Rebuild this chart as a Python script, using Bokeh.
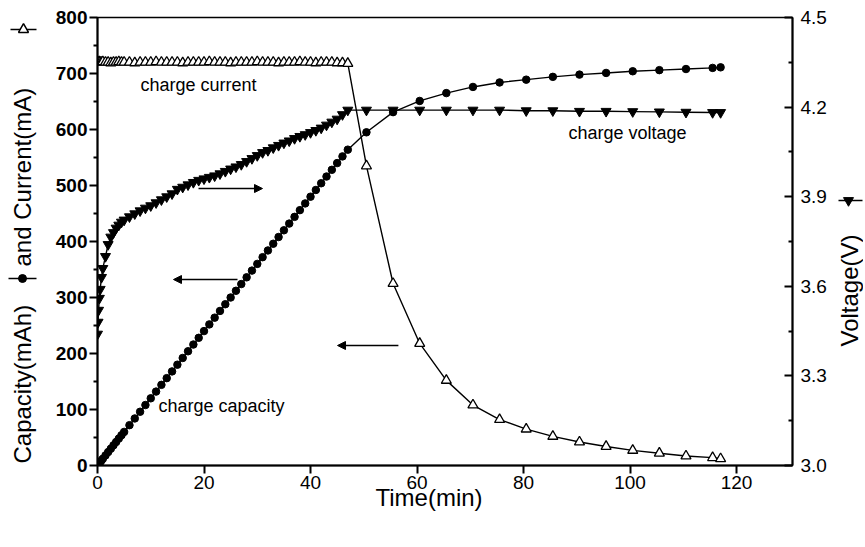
from bokeh.plotting import figure
from bokeh.layouts import row
from bokeh.models import (Range1d, LinearAxis, FixedTicker, NumeralTickFormatter,
                          Label, Arrow, NormalHead, Title)
from bokeh.embed import file_html
from bokeh.resources import INLINE

# ---------------- data ----------------
# constant-current stage (min)
t_cc = [0, 0.1, 0.2, 0.35, 0.5, 0.75, 1, 1.5, 2, 2.5,
        3, 3.5, 4, 4.5, 5, 6, 7, 8, 9, 10,
        11, 12, 13, 14, 15, 16, 17, 18, 19, 20,
        21, 22, 23, 24, 25, 26, 27, 28, 29, 30,
        31, 32, 33, 34, 35, 36, 37, 38, 39, 40,
        41, 42, 43, 44, 45, 46, 47]
current_cc = [721, 720, 720, 721, 720, 720, 721, 720, 720, 719,
              720, 720, 721, 720, 720, 720, 719, 720, 720, 720,
              721, 720, 720, 720, 720, 719, 720, 720, 720, 720,
              721, 720, 720, 720, 719, 720, 720, 720, 720, 721,
              720, 720, 720, 719, 720, 720, 720, 721, 720, 720,
              719, 720, 720, 720, 719, 719, 718]
voltage_cc = [3.44, 3.48, 3.52, 3.56, 3.59, 3.63, 3.66, 3.70, 3.74, 3.765,
              3.78, 3.795, 3.805, 3.815, 3.822, 3.833, 3.843, 3.853, 3.862, 3.87,
              3.88, 3.89, 3.90, 3.91, 3.925, 3.932, 3.94, 3.948, 3.955, 3.96,
              3.965, 3.97, 3.977, 3.985, 3.993, 4.00, 4.008, 4.018, 4.028, 4.038,
              4.048, 4.055, 4.064, 4.072, 4.08, 4.087, 4.095, 4.102, 4.108, 4.115,
              4.122, 4.13, 4.14, 4.15, 4.16, 4.175, 4.19]
capacity_cc = [0, 1.2, 2.4, 4.2, 6, 9, 12, 18, 24, 30,
               36, 42, 48, 54, 60, 72, 84, 96, 108, 120,
               132, 144, 156, 168, 180, 192, 204, 216, 228, 240,
               252, 264, 276, 288, 300, 312, 324, 336, 348, 360,
               372, 384, 396, 408, 420, 432, 444, 456, 468, 480,
               492, 504, 516, 528, 540, 552, 564]

# constant-voltage stage (min)
t_cv = [50.5, 55.5, 60.5, 65.5, 70.5, 75.5, 80.5, 85.5, 90.5, 95.5,
        100.5, 105.5, 110.5, 115.5, 117]
current_cv = [535, 325, 218, 152, 108, 82, 65, 52, 42, 34,
              27, 22, 17, 14, 12]
voltage_cv = [4.19, 4.19, 4.19, 4.19, 4.19, 4.19, 4.188, 4.188, 4.186, 4.186,
              4.185, 4.184, 4.183, 4.182, 4.182]
capacity_cv = [595, 631, 651, 665, 676, 684, 689, 694, 698, 701,
               704, 706, 708, 710, 711]

x_ticks = [0, 20, 40, 60, 80, 100, 120]
left_ticks = [0, 100, 200, 300, 400, 500, 600, 700, 800]
left_minor = [50, 150, 250, 350, 450, 550, 650, 750]
right_ticks = [3.0, 3.3, 3.6, 3.9, 4.2, 4.5]
right_minor = [3.15, 3.45, 3.75, 4.05, 4.35]

time = t_cc + t_cv
current = current_cc + current_cv
voltage = voltage_cc + voltage_cv
capacity = capacity_cc + capacity_cv

FONT = "Liberation Sans"
H = 531
LEFT_W, MAIN_W, RIGHT_W = 45, 788, 30
FRAME_TOP, FRAME_BOTTOM = 17, 465   # page pixel rows of the plot frame

# ---------------- main figure ----------------
p = figure(width=MAIN_W, height=H, output_backend="svg", toolbar_location=None,
           x_range=Range1d(0, 130.5), y_range=Range1d(0, 800),
           min_border_left=52, min_border_right=41, min_border_top=FRAME_TOP,
           min_border_bottom=H - FRAME_BOTTOM)
p.extra_y_ranges = {"volt": Range1d(3.0, 4.5)}
p.xgrid.visible = False
p.ygrid.visible = False
p.outline_line_color = "black"
p.outline_line_width = 1.5
p.background_fill_color = "white"
p.border_fill_color = "white"

xa = p.xaxis[0]
xa.ticker = FixedTicker(ticks=x_ticks)
xa.axis_line_width = 2
xa.major_tick_line_width = 2
xa.major_tick_out = 8
xa.major_tick_in = 0
xa.minor_tick_line_color = None
xa.major_label_text_font = FONT
xa.major_label_text_font_size = "19px"
xa.major_label_text_color = "black"
xa.major_label_standoff = 2

ya = p.yaxis[0]
ya.ticker = FixedTicker(ticks=left_ticks, minor_ticks=left_minor)
ya.axis_line_width = 2
ya.major_tick_line_width = 2
ya.minor_tick_line_width = 2
ya.major_tick_out = 8
ya.major_tick_in = 0
ya.minor_tick_out = 4
ya.minor_tick_in = 0
ya.major_label_text_font = FONT
ya.major_label_text_font_size = "19px"
ya.major_label_text_font_style = "bold"
ya.major_label_text_color = "black"
ya.major_label_standoff = 2

ra = LinearAxis(y_range_name="volt",
                ticker=FixedTicker(ticks=right_ticks, minor_ticks=right_minor),
                formatter=NumeralTickFormatter(format="0.0"))
ra.axis_line_width = 2
ra.major_tick_line_width = 2
ra.minor_tick_line_width = 2
ra.major_tick_in = 8
ra.major_tick_out = 0
ra.minor_tick_in = 4
ra.minor_tick_out = 0
ra.major_label_text_font = FONT
ra.major_label_text_font_size = "19px"
ra.major_label_text_color = "black"
ra.major_label_standoff = 8
p.add_layout(ra, "right")

p.add_layout(Title(text="Time(min)", align="left", offset=278, standoff=-19,
                   text_font=FONT, text_font_size="24px",
                   text_font_style="normal", text_color="black"), "below")

# ---------------- series ----------------
p.line(time, current, line_color="black", line_width=1.4)
p.scatter(time, current, marker="triangle", size=10, fill_color="white",
          line_color="black", line_width=1.3)

p.line(time, capacity, line_color="black", line_width=1.4)
p.scatter(time, capacity, marker="circle", size=7.5, fill_color="black",
          line_color="black")

p.line(time, voltage, line_color="black", line_width=1.4, y_range_name="volt")
p.scatter(time, voltage, marker="inverted_triangle", size=10, fill_color="black",
          line_color="black", y_range_name="volt")

# ---------------- annotations in plot ----------------
def txt(fig, x, y, s, size="18px", angle=0, align="left"):
    fig.add_layout(Label(x=x, y=y, text=s, text_font=FONT, text_font_size=size,
                         text_color="black", angle=angle, angle_units="deg",
                         text_align=align, text_baseline="middle"))

txt(p, 8.07, 678.6, "charge current")
txt(p, 88.44, 592.9, "charge voltage")
txt(p, 11.45, 107.1, "charge capacity")

def arrow(x0, x1, y):
    p.add_layout(Arrow(end=NormalHead(size=8, fill_color="black", line_color="black",
                                      line_width=1),
                       x_start=x0, y_start=y, x_end=x1, y_end=y,
                       line_color="black", line_width=1.5))

arrow(18.97, 30.98, 494.6)
arrow(26.29, 14.27, 332.1)
arrow(56.5, 45.07, 214.3)

# ---------------- side strips for the axis titles ----------------
# (their frames line up with the main frame, so their y range is in page rows)
def strip(w):
    s = figure(width=w, height=H, output_backend="svg", toolbar_location=None,
               x_range=Range1d(0, w), y_range=Range1d(FRAME_BOTTOM, FRAME_TOP),
               x_axis_location=None, y_axis_location=None,
               min_border_left=0, min_border_right=0,
               min_border_top=FRAME_TOP, min_border_bottom=H - FRAME_BOTTOM)
    s.xgrid.visible = False
    s.ygrid.visible = False
    s.outline_line_color = None
    s.background_fill_color = "white"
    s.border_fill_color = "white"
    return s

ls = strip(LEFT_W)
txt(ls, 22, 463, "Capacity(mAh)", size="24px", angle=90)
txt(ls, 22, 266, "and Current(mA)", size="24px", angle=90)
ls.line([8, 36], [278, 278], line_color="black", line_width=1.5)
ls.scatter([22], [278], marker="circle", size=8, fill_color="black", line_color="black")
ls.line([10, 36], [29, 29], line_color="black", line_width=1.5)
ls.scatter([23], [29], marker="triangle", size=10, fill_color="white",
           line_color="black", line_width=1.5)

rs = strip(RIGHT_W)
txt(rs, 16, 290, "Voltage(V)", size="24px", angle=90, align="center")
rs.line([5, 29], [200, 200], line_color="black", line_width=1.5)
rs.scatter([15], [200], marker="inverted_triangle", size=10, fill_color="black",
           line_color="black")

layout = row(ls, p, rs)
open("out.html", "w").write(file_html(layout, INLINE))
